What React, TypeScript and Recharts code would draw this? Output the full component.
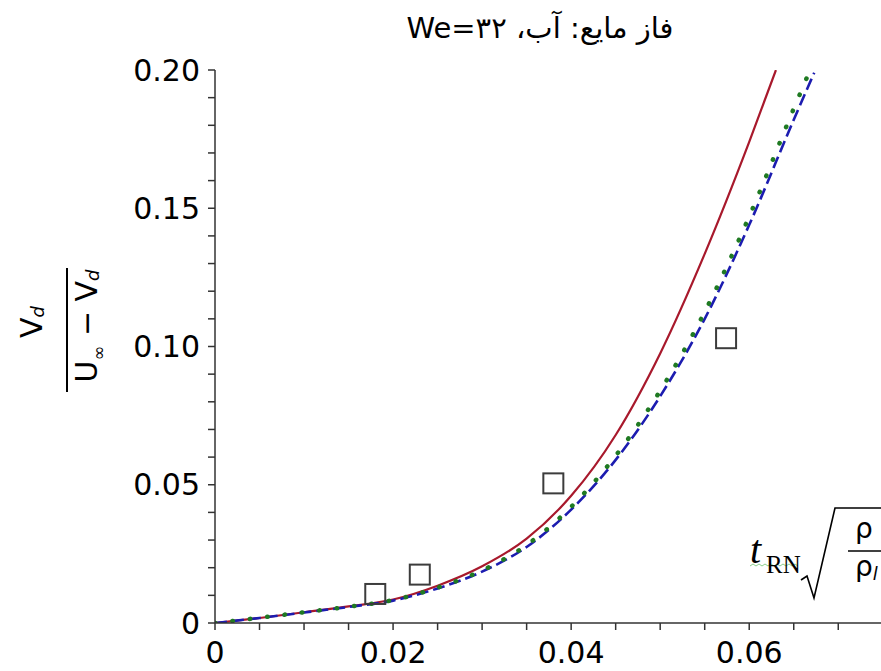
import { ComposedChart, Line, XAxis, YAxis } from "recharts";

const W = 881;
const H = 671;

// x range visible in the (cropped) figure
const X_MAX = 0.0748;

const redX = [0, 0.005, 0.01, 0.015, 0.02, 0.025, 0.03, 0.035, 0.04, 0.045, 0.05, 0.055, 0.06, 0.063];
const redY = [0, 0.0018, 0.0039, 0.006, 0.0085, 0.0135, 0.0205, 0.0305, 0.046, 0.068, 0.0975, 0.1335, 0.174, 0.2];

const blueX = [0, 0.005, 0.01, 0.015, 0.02, 0.025, 0.03, 0.035, 0.04, 0.045, 0.05, 0.055, 0.06, 0.065, 0.0673];
const blueY = [0, 0.0018, 0.0038, 0.0058, 0.0081, 0.0125, 0.0186, 0.0275, 0.041, 0.059, 0.082, 0.11, 0.144, 0.182, 0.199];

const greenX = [0, 0.005, 0.01, 0.015, 0.02, 0.025, 0.03, 0.035, 0.04, 0.045, 0.05, 0.055, 0.06, 0.065, 0.0671];
const greenY = [0, 0.0019, 0.0039, 0.0059, 0.0083, 0.0128, 0.019, 0.0282, 0.042, 0.0605, 0.084, 0.1125, 0.147, 0.186, 0.202];

// experiment (open squares)
const expX = [0.018, 0.023, 0.038, 0.0574];
const expY = [0.0105, 0.0175, 0.0505, 0.103];

const xTicks = [0, 0.005, 0.01, 0.015, 0.02, 0.025, 0.03, 0.035, 0.04, 0.045, 0.05, 0.055, 0.06, 0.065, 0.07];
const xMajor = [0, 0.02, 0.04, 0.06];
const xMajorLabels = ["0", "0.02", "0.04", "0.06"];

const yTicks = [0, 0.01, 0.02, 0.03, 0.04, 0.05, 0.06, 0.07, 0.08, 0.09, 0.1, 0.11, 0.12, 0.13, 0.14, 0.15, 0.16, 0.17, 0.18, 0.19, 0.2];
const yMajor = [0, 0.05, 0.1, 0.15, 0.2];
const yMajorLabels = ["0", "0.05", "0.10", "0.15", "0.20"];

const title = "فاز مایع: آب، We=۳۲";

const zip = (xs: number[], ys: number[]) => xs.map((x, i) => ({ x, y: ys[i] }));
const redData = zip(redX, redY);
const blueData = zip(blueX, blueY);
const greenData = zip(greenX, greenY);
const expData = zip(expX, expY);

const pick = (majors: number[], labels: string[]) => (v: number) => {
  const i = majors.findIndex((m) => Math.abs(m - v) < 1e-9);
  return i >= 0 ? labels[i] : "";
};

const tickFont = { fill: "#000", fontSize: 30, fontFamily: "DejaVu Sans" };

function Square(props: any) {
  const { cx, cy, index } = props;
  if (cx == null || cy == null) return null;
  return (
    <rect key={index} x={cx - 10} y={cy - 10} width={20} height={20} fill="none" stroke="#3c3c3c" strokeWidth={2} />
  );
}

function YLabel() {
  return (
    <g transform="translate(0,330) rotate(-90)" fontFamily="DejaVu Sans" fill="#000">
      <text x={8} y={42} textAnchor="middle" fontSize={30}>
        V<tspan fontSize={18} fontStyle="italic" dy={2}>d</tspan>
      </text>
      <line x1={-62} y1={67} x2={62} y2={67} stroke="#000" strokeWidth={2} />
      <text x={4} y={97} textAnchor="middle" fontSize={30}>
        U<tspan fontSize={18} dy={8}>∞</tspan>
        <tspan dy={-8}> − V</tspan>
        <tspan fontSize={18} fontStyle="italic" dy={2}>d</tspan>
      </text>
    </g>
  );
}

function XLabel() {
  return (
    <g fill="#000">
      <path
        d="M750 566 l3 -2 l3 2 l3 -2 l3 2 l3 -2 l3 2 l3 -2 l3 2 l3 -2 l3 2 l3 -2 l3 2 l3 -2 l3 2 l3 -2 l3 2"
        stroke="#8ccf8c"
        strokeWidth={1}
        fill="none"
      />
      <text x={750} y={563} fontFamily="Liberation Serif" fontStyle="italic" fontSize={40}>
        t
      </text>
      <text x={766} y={573} fontFamily="Liberation Serif" fontSize={25}>
        RN
      </text>
      <path d="M801 580 L807 576 L814 598 L835 508 L881 508" stroke="#000" strokeWidth={1.6} fill="none" />
      <text x={855} y={538} fontFamily="DejaVu Sans" fontSize={28}>
        ρ
      </text>
      <line x1={848} y1={551} x2={881} y2={551} stroke="#000" strokeWidth={1.6} />
      <text x={855} y={576} fontFamily="DejaVu Sans" fontSize={28}>
        ρ<tspan fontSize={18} fontStyle="italic" dy={4}>l</tspan>
      </text>
    </g>
  );
}

export default function App() {
  return (
    <div style={{ position: "absolute", left: 0, top: 0, width: W, height: H, background: "#fff", overflow: "hidden" }}>
      <div
        dir="rtl"
        style={{
          position: "absolute",
          left: 340,
          top: 14,
          width: 400,
          textAlign: "center",
          fontFamily: "DejaVu Sans",
          fontSize: 29,
          lineHeight: 1,
          color: "#000",
          zIndex: 1,
        }}
      >
        {title}
      </div>
      <ComposedChart width={W} height={H} margin={{ top: 70, right: 0, bottom: 0, left: 0 }}>
        <XAxis
          type="number"
          dataKey="x"
          domain={[0, X_MAX]}
          allowDataOverflow
          ticks={xTicks}
          interval={0}
          tickFormatter={pick(xMajor, xMajorLabels)}
          height={48}
          tickSize={7}
          tickMargin={12}
          stroke="#333"
          strokeWidth={1.5}
          tick={tickFont}
          label={{ content: () => <XLabel /> }}
        />
        <YAxis
          type="number"
          domain={[0, 0.2]}
          allowDataOverflow
          ticks={yTicks}
          interval={0}
          tickFormatter={pick(yMajor, yMajorLabels)}
          width={215}
          tickSize={7}
          tickMargin={8}
          stroke="#333"
          strokeWidth={1.5}
          tick={tickFont}
          label={{ content: () => <YLabel /> }}
        />
        <Line
          data={expData}
          dataKey="y"
          stroke="none"
          dot={Square}
          activeDot={false}
          isAnimationActive={false}
        />
        <Line
          data={redData}
          dataKey="y"
          type="monotone"
          stroke="#a8192c"
          strokeWidth={2.2}
          dot={false}
          activeDot={false}
          isAnimationActive={false}
        />
        <Line
          data={blueData}
          dataKey="y"
          type="monotone"
          stroke="#1c1cb0"
          strokeWidth={2.6}
          strokeDasharray="12 5"
          dot={false}
          activeDot={false}
          isAnimationActive={false}
        />
        <Line
          data={greenData}
          dataKey="y"
          type="monotone"
          stroke="#1f7a22"
          strokeWidth={4.5}
          strokeLinecap="round"
          strokeDasharray="0.5 17"
          dot={false}
          activeDot={false}
          isAnimationActive={false}
        />
      </ComposedChart>
    </div>
  );
}
